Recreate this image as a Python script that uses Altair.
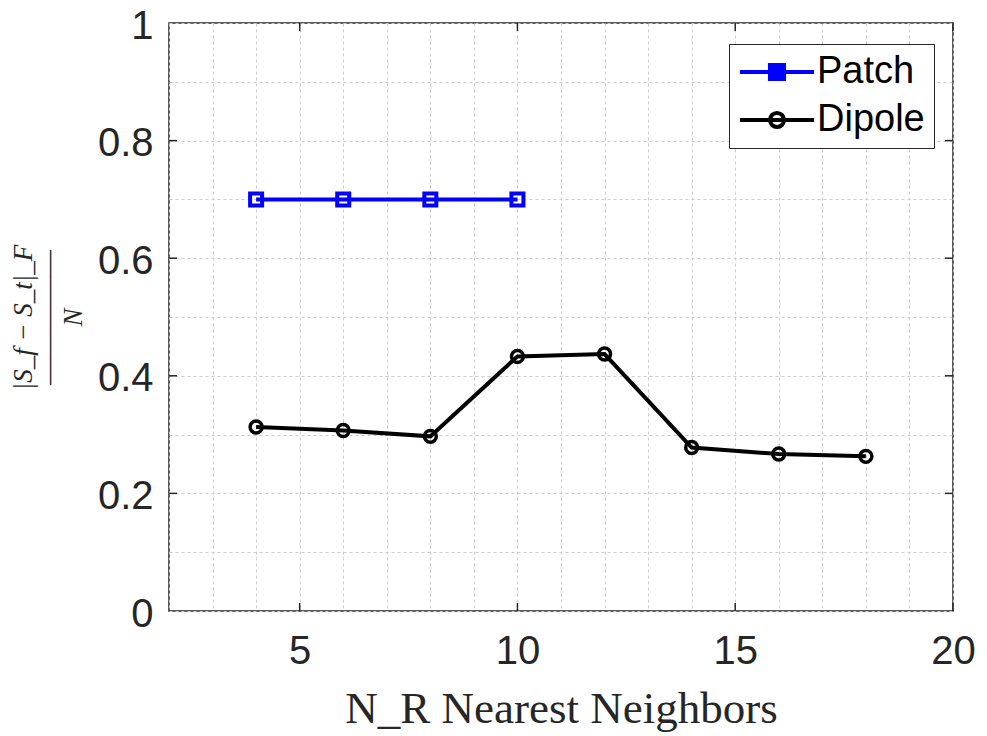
import altair as alt
import pandas as pd

# ---- data ----
patch_x = [4, 6, 8, 10]
patch_y = [0.70, 0.70, 0.70, 0.70]
dipole_x = [4, 6, 8, 10, 12, 14, 16, 18]
dipole_y = [0.313, 0.307, 0.297, 0.433, 0.437, 0.278, 0.267, 0.263]
series_names = ["Patch", "Dipole"]
series_colors = ["#0000ff", "#000000"]

x_major = [5, 10, 15, 20]
y_major = [0.2, 0.4, 0.6, 0.8]
x_grid = list(range(2, 21))
y_grid = [round(i * 0.05, 2) for i in range(21)]

W, H = 784, 588
TXT = "#262626"

df = pd.concat([
    pd.DataFrame({"x": patch_x, "y": patch_y, "series": "Patch"}),
    pd.DataFrame({"x": dipole_x, "y": dipole_y, "series": "Dipole"}),
], ignore_index=True)

xscale = alt.Scale(domain=[2, 20], nice=False, zero=False)
yscale = alt.Scale(domain=[0, 1], nice=False, zero=False)

x_axis = alt.Axis(
    values=x_grid, labelExpr="datum.value % 5 === 0 ? format(datum.value, '~g') : ''",
    ticks=False, domain=False, grid=True, gridDash=[3, 3], gridColor="#cccccc", gridWidth=1,
    labelFont="Liberation Sans", labelFontSize=40, labelColor=TXT, labelPadding=20,
    labelOverlap=False, labelFlush=False,
    titleFont="Liberation Serif", titleFontSize=45, titleFontWeight="normal", titleColor=TXT,
    titlePadding=15,
)
y_axis = alt.Axis(
    values=y_grid,
    labelExpr="abs(datum.value*5 - round(datum.value*5)) < 0.001 ? format(datum.value, '~g') : ''",
    ticks=False, domain=False, grid=True, gridDash=[3, 3], gridColor="#cccccc", gridWidth=1,
    labelFont="Liberation Sans", labelFontSize=40, labelColor=TXT, labelPadding=16,
    labelOffset=3, labelOverlap=False, labelFlush=False,
    titleFont="Liberation Serif", titleFontSize=27, titleFontWeight="normal",
    titleFontStyle="italic", titleColor=TXT, titlePadding=10, titleLineHeight=25,
)

patch_path = "M-2.47,0L2.47,0M-0.47,-0.47L0.47,-0.47L0.47,0.47L-0.47,0.47Z"
dipole_path = "M-2.47,0L2.47,0M0.47,0A0.47,0.47,0,1,1,-0.47,0A0.47,0.47,0,1,1,0.47,0Z"

legend = alt.Legend(
    title=None, orient="none", legendX=560, legendY=21, direction="vertical",
    padding=9, rowPadding=10, labelFont="Liberation Sans", labelFontSize=38, labelColor="black",
    symbolSize=900, symbolStrokeWidth=4, symbolOffset=20, labelOffset=21,
    symbolOpacity=1, strokeColor=TXT, fillColor="white",
)

def line_layer(name, color):
    return alt.Chart(df).transform_filter(alt.datum.series == name).mark_line(
        strokeWidth=4, color=color
    ).encode(
        x=alt.X("x:Q", scale=xscale, axis=x_axis, title="N_R Nearest Neighbors"),
        y=alt.Y("y:Q", scale=yscale, axis=y_axis,
                title=["|S_f \u2212 S_t|_F", "\u2015\u2015\u2015\u2015\u2015", "N"]),
    )

line_patch = line_layer("Patch", series_colors[0])
line_dipole = line_layer("Dipole", series_colors[1])

pts_patch = alt.Chart(df).transform_filter(alt.datum.series == "Patch").mark_point(
    shape="square", filled=False, color=series_colors[0], size=144, strokeWidth=4, opacity=1
).encode(x=alt.X("x:Q", scale=xscale), y=alt.Y("y:Q", scale=yscale))

pts_dipole = alt.Chart(df).transform_filter(alt.datum.series == "Dipole").mark_point(
    shape="circle", filled=False, color=series_colors[1], size=143, strokeWidth=3.5, opacity=1
).encode(x=alt.X("x:Q", scale=xscale), y=alt.Y("y:Q", scale=yscale))

# invisible layer that only provides the line+marker legend
legend_layer = alt.Chart(df).mark_point(opacity=0, strokeWidth=4).encode(
    x=alt.X("x:Q", scale=xscale),
    y=alt.Y("y:Q", scale=yscale),
    stroke=alt.Stroke("series:N", scale=alt.Scale(domain=series_names, range=series_colors),
                      legend=legend),
    fill=alt.Fill("series:N", scale=alt.Scale(domain=series_names, range=["#0000ff", "transparent"]),
                  legend=legend),
    shape=alt.Shape("series:N", scale=alt.Scale(domain=series_names, range=[patch_path, dipole_path]),
                    legend=legend),
)

# inward major ticks on all four sides
xt = pd.DataFrame({"x": x_major})
yt = pd.DataFrame({"y": y_major})
tick_style = dict(color=TXT, strokeWidth=1.5)
xt_bottom = alt.Chart(xt).mark_rule(**tick_style).encode(
    x=alt.X("x:Q", scale=xscale), y=alt.value(H), y2=alt.value(H - 8))
xt_top = alt.Chart(xt).mark_rule(**tick_style).encode(
    x=alt.X("x:Q", scale=xscale), y=alt.value(0), y2=alt.value(8))
yt_left = alt.Chart(yt).mark_rule(**tick_style).encode(
    y=alt.Y("y:Q", scale=yscale), x=alt.value(0), x2=alt.value(8))
yt_right = alt.Chart(yt).mark_rule(**tick_style).encode(
    y=alt.Y("y:Q", scale=yscale), x=alt.value(W), x2=alt.value(W - 8))

chart = alt.layer(
    line_patch, line_dipole, xt_bottom, xt_top, yt_left, yt_right,
    pts_patch, pts_dipole, legend_layer
).properties(
    width=W, height=H, autosize="none",
    padding={"left": 161, "top": 15, "right": 22, "bottom": 124},
).configure_view(stroke=TXT, strokeWidth=1.5)

chart.save("out.html", embed_options={"renderer": "svg", "actions": False})
